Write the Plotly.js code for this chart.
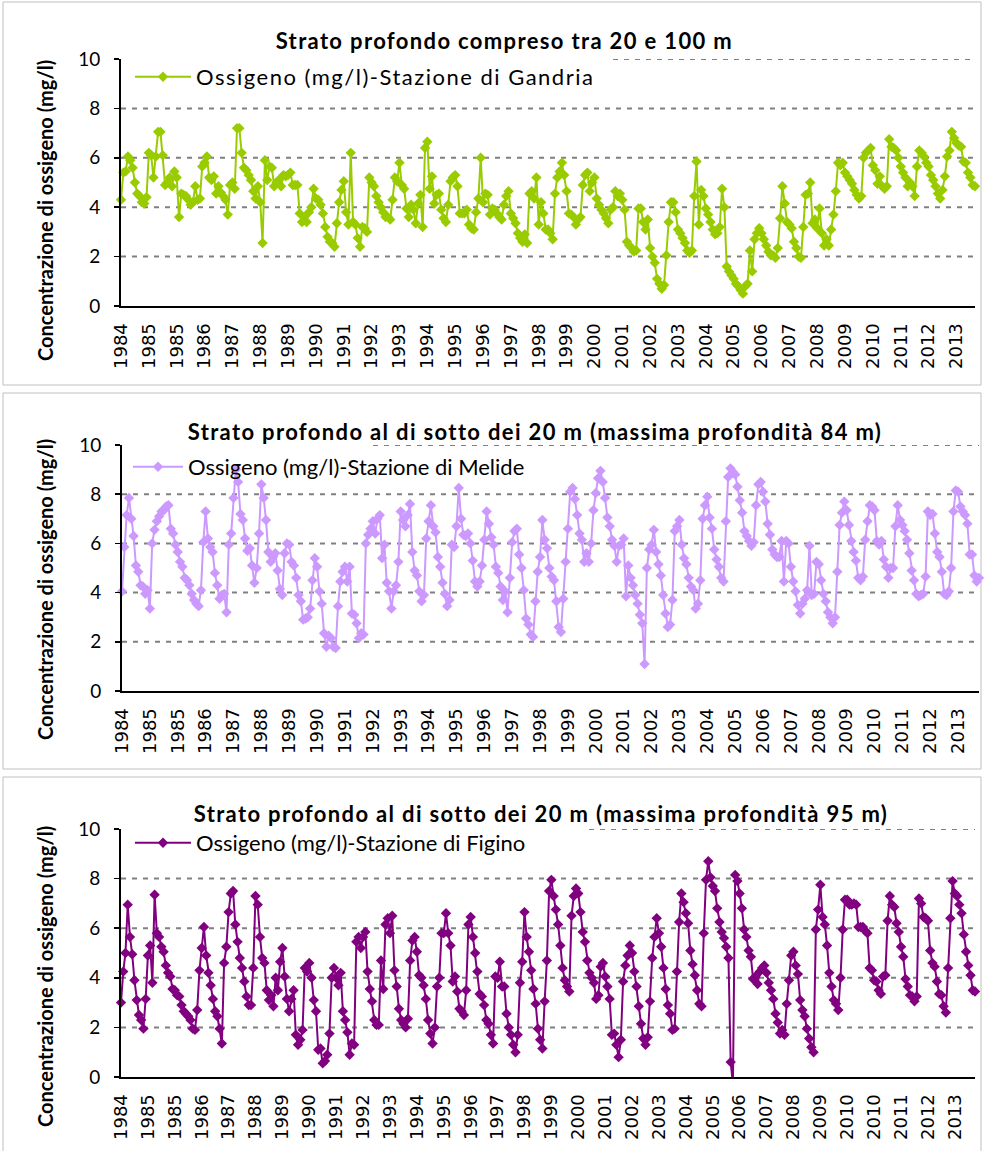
<!DOCTYPE html>
<html>
<head>
<meta charset="utf-8">
<script src="https://cdn.plot.ly/plotly-3.0.1.min.js"></script>
<style>
  html, body { margin: 0; padding: 0; background: #fff; }
  #chart { width: 984px; height: 1151px; }
  text.legendtext { letter-spacing: 1.5px; }
  g.annotation[data-index="0"] text,
  g.annotation[data-index="2"] text,
  g.annotation[data-index="4"] text { letter-spacing: 1.35px; }
</style>
</head>
<body>
<div id="chart"></div>
<script>
// ---------------- DATA ----------------
const yearLabelsGandria = ['1984','1985','1985','1986','1987','1988','1989','1990','1991','1992','1993','1994','1995','1996','1997','1998','1999','2000','2001','2002','2003','2004','2005','2006','2007','2008','2009','2010','2011','2012','2013'];
const yearLabelsMelide = ['1984','1985','1985','1986','1987','1988','1989','1990','1991','1992','1993','1994','1995','1996','1997','1998','1999','2000','2001','2002','2003','2004','2005','2006','2007','2008','2009','2010','2011','2012','2013'];
const yearLabelsFigino = ['1984','1985','1985','1986','1987','1988','1989','1990','1991','1992','1993','1994','1995','1996','1997','1998','1999','2000','2001','2002','2003','2004','2005','2006','2007','2008','2009','2010','2010','2011','2012','2013'];

const oxygenGandria = [
 4.3,5.4,5.45,6.05,5.9,5.6,5.0,4.55,4.45,4.2,4.15,4.4,6.2,6.1,5.2,6.05,7.05,7.05,6.1,4.9,5.0,
 5.2,4.85,5.45,5.2,3.6,4.55,4.5,4.45,4.3,4.1,4.2,4.85,4.3,4.35,5.65,5.8,6.05,5.2,5.1,5.25,4.55,4.85,4.6,
 4.45,4.3,3.7,4.9,5.0,4.75,7.2,7.2,6.2,5.6,5.5,5.3,5.1,4.65,4.35,4.85,4.2,2.55,5.9,5.1,5.65,
 5.6,4.85,5.0,5.1,4.85,5.3,5.25,5.3,5.4,4.9,4.9,4.9,3.75,3.4,3.6,3.4,3.8,4.0,4.75,4.35,
 4.3,4.1,3.75,3.2,2.8,2.6,2.55,2.4,3.35,4.2,4.7,5.05,3.8,3.3,6.2,3.4,3.3,2.75,2.4,3.2,
 3.15,3.0,5.2,5.0,4.85,4.45,4.2,4.0,3.8,3.6,3.6,3.5,4.3,5.2,5.05,5.8,4.9,4.75,3.95,3.6,4.1,
 3.9,3.35,4.15,4.5,3.2,6.4,6.65,4.75,5.25,4.15,4.5,4.55,3.9,3.55,3.4,4.1,5.05,5.2,5.3,4.85,
 3.75,3.75,3.75,3.9,3.3,3.15,3.1,3.8,4.35,6.0,4.2,4.55,4.5,3.7,3.95,3.9,3.75,3.6,3.5,4.1,
 4.45,4.65,3.75,3.55,3.35,2.95,2.75,2.6,2.9,2.55,4.55,4.65,4.35,5.2,3.3,4.2,3.75,3.1,
 3.1,2.95,2.7,4.55,5.2,5.45,5.8,5.3,4.65,3.75,3.7,3.6,3.3,3.5,3.6,4.9,5.3,5.4,4.65,5.0,
 5.2,4.35,4.1,3.9,3.75,3.55,3.35,3.9,4.0,4.65,4.45,4.55,4.3,3.9,2.6,2.45,2.35,2.2,2.25,3.95,
 3.95,3.4,3.1,3.5,2.35,2.0,1.75,1.1,0.9,0.7,0.85,2.05,3.4,4.2,4.2,3.8,3.1,2.95,2.75,2.55,
 2.25,2.15,2.25,4.45,5.85,3.3,4.7,4.45,3.95,3.7,3.4,3.1,2.9,2.95,3.2,4.75,4.0,1.6,1.4,1.25,
 1.1,0.9,0.8,0.65,0.5,0.8,0.9,2.25,1.4,2.7,2.95,3.15,2.95,2.7,2.45,2.2,2.05,2.05,1.95,2.35,
 3.55,4.85,4.15,3.4,3.3,3.15,2.6,2.35,2.0,1.95,3.2,4.5,4.55,5.0,3.35,3.5,3.15,3.95,2.95,2.45,
 2.7,2.45,3.1,3.7,4.65,5.8,5.7,5.8,5.4,5.25,5.1,4.95,4.7,4.5,4.35,4.45,6.0,6.2,6.3,6.4,
 5.7,5.5,4.95,5.25,4.85,4.75,4.85,6.75,6.45,6.4,6.3,6.0,5.65,5.4,5.2,4.85,5.0,4.85,4.45,5.65,
 6.3,6.2,6.05,5.8,5.65,5.3,5.1,4.85,4.55,4.35,4.7,5.25,6.05,6.3,7.05,6.8,6.6,6.5,6.45,5.85,
 5.8,5.4,5.2,4.9,4.85
];

const oxygenMelide = [
 4.05,5.85,7.15,7.85,7.0,6.3,5.1,4.85,4.3,
 4.25,3.95,4.1,3.35,6.0,6.55,6.9,7.1,7.3,
 7.35,7.5,7.55,6.6,6.4,5.95,5.65,5.25,5.05,
 4.6,4.5,4.3,3.95,3.7,3.55,3.45,4.1,
 6.05,7.3,6.2,5.85,5.65,4.8,4.3,3.75,3.9,
 3.95,3.2,5.95,6.4,7.85,9.0,8.5,7.2,6.95,6.2,
 5.7,5.8,5.1,4.4,5.0,6.4,8.4,7.85,6.95,
 5.65,5.25,5.45,5.6,4.9,4.15,3.9,5.6,6.0,
 5.95,5.25,5.1,4.6,3.9,3.65,2.9,2.95,3.0,
 3.35,4.5,5.4,5.05,4.05,3.55,2.35,1.8,2.25,
 2.15,1.8,1.75,3.45,4.45,4.85,5.05,4.45,5.05,3.15,
 3.1,2.75,2.15,2.35,2.3,6.0,6.35,6.6,6.9,
 6.4,7.0,7.15,5.4,5.95,4.4,4.05,3.35,4.05,4.3,
 5.25,7.3,6.95,6.7,7.15,7.6,5.65,4.9,4.7,4.05,
 3.65,3.9,6.2,6.9,7.55,6.7,6.45,5.45,5.05,
 4.4,3.95,3.45,3.7,5.95,5.85,6.7,8.25,7.0,6.35,
 6.3,6.4,6.0,5.3,4.45,4.25,4.45,5.1,6.15,7.3,
 6.8,6.25,5.95,5.05,4.8,4.25,3.7,4.05,3.2,4.6,
 6.05,6.5,6.6,5.55,5.0,4.1,2.95,2.7,2.3,2.2,
 3.65,4.85,5.45,6.95,6.15,5.8,5.0,
 4.65,4.5,3.65,2.6,2.4,3.75,5.25,6.6,8.1,8.25,
 7.8,7.15,6.4,6.15,5.25,5.6,5.25,6.0,7.35,
 8.05,8.65,8.95,8.5,7.85,7.05,6.7,6.15,5.9,
 5.25,5.9,5.95,6.2,3.85,5.1,4.6,4.3,
 3.9,3.55,3.1,2.75,1.1,5.0,5.75,5.95,
 6.55,5.65,5.15,4.7,3.9,3.15,2.6,2.7,3.7,
 6.5,6.7,6.95,5.95,5.4,5.15,4.6,4.25,4.1,
 3.35,3.55,4.5,7.0,7.55,7.9,7.05,6.6,5.75,
 5.35,5.05,4.6,4.45,6.9,8.7,9.05,8.9,8.8,
 8.3,7.75,7.25,6.5,6.3,6.1,5.9,6.05,7.55,
 8.4,8.5,8.1,7.7,6.8,6.35,5.75,5.55,5.45,
 5.45,6.1,4.45,6.1,6.0,5.05,4.45,4.05,3.5,
 3.15,3.55,3.75,4.1,5.9,3.9,3.95,5.25,5.15,4.5,
 3.95,3.65,3.2,3.0,2.75,3.0,4.85,6.75,7.25,
 7.7,7.35,6.75,6.1,5.65,5.3,4.6,4.5,4.65,
 6.15,6.9,7.55,7.5,7.35,6.1,5.95,6.1,5.35,5.05,
 4.6,5.0,5.0,6.7,7.55,6.95,6.75,6.5,6.15,5.6,
 4.9,4.5,3.95,3.85,3.9,3.95,4.65,7.3,7.15,7.2,
 6.4,5.65,5.45,4.85,3.95,3.9,4.05,5.0,7.3,8.15,
 8.1,7.5,7.3,7.15,6.8,5.55,5.55,4.7,4.45,4.6
];

const oxygenFigino = [
 3.0,4.25,5.0,6.95,5.65,4.95,3.9,3.1,2.5,
 2.3,1.95,3.15,4.9,5.3,3.8,7.35,5.8,5.65,5.25,
 5.05,4.5,4.2,4.05,3.55,3.5,3.3,3.25,2.9,2.65,
 2.55,2.45,2.3,1.95,1.9,2.7,4.3,5.2,6.05,4.9,
 4.2,3.7,3.15,2.65,2.45,1.95,1.35,4.6,5.25,6.65,
 7.4,7.5,6.15,5.45,4.8,4.4,3.85,3.25,2.9,2.9,
 4.4,7.3,6.95,5.65,4.8,4.6,3.5,3.1,3.3,
 2.85,4.0,3.5,4.65,5.2,4.05,3.15,2.65,
 3.15,3.5,1.7,1.3,1.5,1.9,4.4,4.25,4.6,
 4.0,3.1,2.65,1.1,1.15,0.55,0.65,0.9,1.75,
 4.0,4.4,4.0,3.7,4.2,2.65,2.3,1.8,0.9,1.35,
 1.3,5.45,5.65,5.2,5.65,5.85,4.25,3.55,3.05,
 2.3,2.1,2.1,4.7,3.55,6.15,6.4,5.8,6.5,4.3,
 3.65,2.75,2.3,2.15,2.0,2.35,4.7,5.5,5.65,
 5.05,4.1,4.0,3.7,3.15,2.3,1.75,1.35,2.0,3.65,
 4.0,5.8,5.8,6.6,5.8,5.3,3.85,4.05,3.45,2.75,
 2.65,2.5,3.5,6.15,6.45,5.65,5.0,4.25,3.35,
 3.25,2.9,2.3,2.15,1.7,1.35,4.05,4.0,4.65,3.65,
 3.65,2.55,2.0,1.7,1.3,1.0,1.7,3.8,4.65,6.65,
 5.65,5.05,4.3,3.55,2.95,1.95,1.5,1.15,3.05,
 4.7,7.5,7.95,
 7.3,6.75,6.15,5.3,4.4,3.9,3.65,3.45,
 6.5,7.3,7.6,7.4,6.65,5.85,5.45,4.7,4.2,
 4.0,3.8,3.15,3.3,4.45,4.6,4.05,3.65,3.15,
 1.7,1.75,1.3,0.8,1.5,3.85,4.5,4.9,5.3,
 5.0,4.25,3.65,2.85,2.15,1.55,1.3,1.6,3.05,
 4.8,5.65,6.4,5.8,5.25,4.4,3.55,2.9,2.55,
 1.9,1.95,4.25,6.25,7.4,7.05,6.6,6.2,5.1,
 4.55,4.1,3.5,2.95,2.85,5.8,7.95,8.7,8.05,
 7.7,7.5,6.8,6.25,5.85,5.6,5.25,4.8,
 0.6,-0.3,8.15,7.9,7.4,6.8,5.95,5.65,5.1,4.85,
 3.95,4.05,3.75,4.25,4.4,4.5,4.2,3.8,3.5,
 3.15,2.55,2.2,1.75,1.9,1.7,2.95,3.9,4.9,
 5.05,4.5,4.15,3.1,2.7,2.45,1.95,1.55,1.2,
 1.0,5.95,6.75,7.75,6.45,6.15,5.3,4.2,3.65,3.1,
 2.95,2.7,4.0,5.95,7.15,7.15,6.95,6.95,
 7.0,6.95,6.05,6.05,6.05,5.9,5.8,4.4,
 4.3,3.9,3.85,3.5,3.35,4.05,4.1,6.3,7.3,6.95,
 6.85,6.2,5.85,5.25,4.85,3.95,3.65,3.3,3.25,
 3.05,3.25,7.2,7.0,6.45,6.4,6.3,5.1,4.6,4.45,
 3.85,3.35,3.3,2.85,2.6,4.4,6.4,7.9,7.4,7.3,
 6.95,6.6,5.75,5.05,4.5,4.1,3.5,3.45
];

const seriesNames = ['Ossigeno (mg/l)-Stazione di Gandria','Ossigeno (mg/l)-Stazione di Melide','Ossigeno (mg/l)-Stazione di Figino'];
const panelTitles = ['Strato profondo compreso tra 20 e 100 m','Strato profondo al di sotto dei 20 m (massima profondità 84 m)','Strato profondo al di sotto dei 20 m (massima profondità 95 m)'];
const yAxisTitle = 'Concentrazione di ossigeno (mg/l)';
const yTicks = [0,2,4,6,8,10];
const labelEvery = 12;

// ---------------- LAYOUT HELPERS ----------------
const W = 984, H = 1151;
const px = v => v / W;
const py = v => 1 - v / H;

const panels = [
  {data: oxygenGandria, labels: yearLabelsGandria, color: '#99CC00',
   plot: {l:121, r:975, t:59, b:306}, box:{t:2, b:385}, title:{x:504, y:40},
   ytitle:{y:211}, legend:{x:130, y:77, w:56}, grid10Start:613},
  {data: oxygenMelide, labels: yearLabelsMelide, color: '#CC99FF',
   plot: {l:122, r:979, t:445, b:691}, box:{t:393, b:769}, title:{x:535, y:431},
   ytitle:{y:590}, legend:{x:128, y:467, w:50}, grid10Start:373},
  {data: oxygenFigino, labels: yearLabelsFigino, color: '#800080',
   plot: {l:121, r:975, t:829, b:1077}, box:{t:777, b:1160}, title:{x:541, y:813},
   ytitle:{y:977}, legend:{x:130, y:843, w:56}, grid10Start:589}
];

const traces = [];
const layout = {
  width: W, height: H,
  margin: {l:0, r:0, t:0, b:0},
  paper_bgcolor: '#ffffff',
  plot_bgcolor: 'rgba(0,0,0,0)',
  showlegend: true,
  shapes: [], annotations: []
};

panels.forEach((p, k) => {
  const sfx = k === 0 ? '' : String(k + 1);
  const xa = 'x' + sfx, ya = 'y' + sfx, lg = 'legend' + sfx;
  traces.push({
    type: 'scatter', mode: 'lines+markers',
    name: seriesNames[k],
    x: p.data.map((_, i) => i), y: p.data,
    xaxis: xa, yaxis: ya, legend: lg,
    line: {color: p.color, width: 2},
    marker: {symbol: 'diamond', size: 8, color: p.color},
    cliponaxis: false,
    hoverinfo: 'skip'
  });
  layout['xaxis' + sfx] = {
    domain: [px(p.plot.l), px(p.plot.r)], anchor: ya,
    range: [0, p.data.length - 1],
    tickmode: 'array',
    tickvals: p.labels.map((_, j) => j * labelEvery),
    ticktext: p.labels,
    tickangle: -90,
    tickfont: {family: 'DejaVu Sans', size: 18, color: '#000'},
    ticks: '', showline: true, linecolor: '#000', linewidth: 2,
    showgrid: false, zeroline: false, fixedrange: true, ticklabelstandoff: 8
  };
  layout['yaxis' + sfx] = {
    domain: [py(p.plot.b), py(p.plot.t)], anchor: xa,
    range: [0, 10], tickmode: 'array', tickvals: yTicks,
    ticks: 'outside', ticklen: 5, tickwidth: 1.5, tickcolor: '#000',
    tickfont: {family: 'Lato', size: 19, color: '#000'},
    showline: true, linecolor: '#000', linewidth: 2,
    showgrid: false, zeroline: false, fixedrange: true, ticklabelstandoff: 10
  };
  layout[lg] = {
    x: px(p.legend.x), xanchor: 'left', y: py(p.legend.y), yanchor: 'middle',
    bgcolor: 'rgba(0,0,0,0)', borderwidth: 0,
    font: {family: 'Lato', size: 22, color: '#000'},
    itemwidth: p.legend.w, itemclick: false, itemdoubleclick: false
  };
  // panel frame
  layout.shapes.push({type:'rect', xref:'paper', yref:'paper', layer:'below',
    x0: px(3), x1: px(981), y0: py(p.box.b), y1: py(p.box.t),
    line: {color:'#BFBFBF', width:1}, fillcolor:'rgba(0,0,0,0)'});
  // dashed gridlines
  yTicks.filter(v => v > 0).forEach(v => {
    const start = v === 10 ? (p.grid10Start - p.plot.l) / (p.plot.r - p.plot.l) : 0;
    layout.shapes.push({type:'line', xref: xa + ' domain', yref: ya, layer:'below',
      x0: start, x1: 1, y0: v, y1: v,
      line: {color:'#808080', width:2, dash:'5px,6px'}});
  });
  // titles
  layout.annotations.push({text: '<b>' + panelTitles[k] + '</b>', xref:'paper', yref:'paper',
    x: px(p.title.x), y: py(p.title.y), xanchor:'center', yanchor:'middle', showarrow:false,
    font:{family:'Lato', size:22, color:'#000'}});
  layout.annotations.push({text: '<b>' + yAxisTitle + '</b>', xref:'paper', yref:'paper',
    x: px(45), y: py(p.ytitle.y), xanchor:'center', yanchor:'middle', showarrow:false,
    textangle: -90, font:{family:'Lato', size:20, color:'#000'}});
});

Plotly.newPlot('chart', traces, layout, {displayModeBar: false, staticPlot: true});
</script>
</body>
</html>
